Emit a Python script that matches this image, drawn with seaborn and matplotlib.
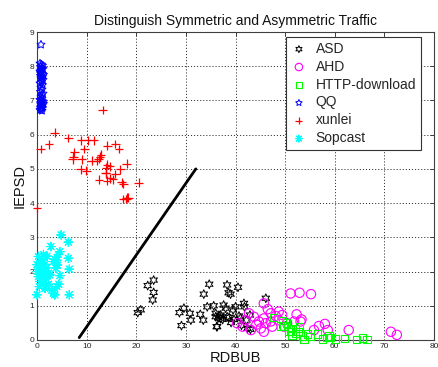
import matplotlib
matplotlib.use("Agg")
import matplotlib.pyplot as plt
import seaborn as sns

# ---------------- data ----------------
asd_x = [23.5, 22.3, 23.5, 23.3, 20.9, 20.3, 29.6, 28.7, 30.8, 31.0, 29.1, 32.9, 33.5, 33.6, 34.7, 34.3,
         35.6, 36.0, 36.3, 36.5, 37.0, 36.8, 37.4, 38.3, 40.5, 38.6, 39.0, 37.6, 38.0, 39.5, 40.0, 41.7,
         41.8, 36.0, 37.0, 38.3, 38.7, 39.7, 40.7, 41.0, 42.2, 42.9, 43.0, 36.2, 39.1, 41.2, 46.1, 42.4]
asd_y = [1.75, 1.59, 1.39, 1.17, 0.88, 0.80, 0.93, 0.80, 0.78, 0.58, 0.42, 0.75, 0.58, 1.34, 1.63, 0.97,
         1.00, 0.68, 0.39, 0.65, 0.62, 0.70, 0.60, 1.61, 1.54, 1.38, 1.34, 1.02, 0.93, 0.88, 0.97, 1.07,
         0.97, 0.78, 0.73, 0.68, 0.66, 0.60, 0.70, 0.64, 0.58, 0.73, 0.31, 0.39, 0.51, 0.43, 1.22, 0.34]

ahd_x = [51.1, 52.9, 55.2, 45.7, 43.7, 42.7, 44.7, 46.1, 47.1, 48.1, 48.7, 47.4, 45.1, 41.4, 40.3, 47.1,
         48.7, 45.7, 43.1, 42.0, 45.7, 49.8, 51.8, 52.3, 53.1, 49.4, 50.4, 56.8, 58.0, 58.6, 62.8, 71.3,
         72.5, 55.8, 53.3, 46.5, 44.2]
ahd_y = [1.36, 1.38, 1.34, 0.63, 0.68, 0.78, 0.54, 0.49, 0.54, 0.70, 0.58, 0.39, 0.34, 0.39, 0.49, 0.78,
         0.83, 1.07, 0.29, 0.58, 0.24, 0.39, 0.54, 0.75, 0.54, 0.73, 0.49, 0.41, 0.47, 0.29, 0.29, 0.24,
         0.15, 0.29, 0.60, 0.90, 0.45]

http_x = [47.7, 49.4, 49.0, 50.8, 51.4, 52.1, 52.6, 53.8, 54.5, 56.5, 57.5, 58.4, 59.1, 60.2, 62.0, 64.4,
          65.6, 66.5, 53.5, 51.1, 49.8, 51.1, 52.1, 50.3, 52.9, 55.0, 58.8]
http_y = [0.66, 0.56, 0.41, 0.24, 0.15, 0.34, 0.24, 0.02, 0.18, 0.18, 0.03, 0.08, 0.08, 0.03, 0.04, 0.02,
          0.06, 0.02, 0.12, 0.34, 0.41, 0.24, 0.19, 0.50, 0.40, 0.10, 0.12]

qq_x = [0.8, 0.6, 0.9, 1.1, 0.7, 1.0, 1.2, 0.8, 0.6, 0.9, 1.1, 1.3, 0.7, 1.0, 0.8, 1.2, 0.9, 0.6, 1.1,
        0.8, 1.0, 0.7, 1.2, 0.9, 0.8, 1.0, 0.6, 1.1, 0.9, 0.7, 1.3, 0.8, 1.0, 0.9, 0.7, 1.1, 0.8, 0.6,
        1.0, 1.2, 0.9, 0.7, 1.1, 0.8, 1.0]
qq_y = [8.63, 8.08, 8.05, 8.02, 7.98, 7.95, 7.92, 7.88, 7.85, 7.82, 7.78, 7.75, 7.72, 7.68, 7.65, 7.60,
        7.55, 7.50, 7.45, 7.38, 7.32, 7.25, 7.20, 7.15, 7.10, 7.05, 7.02, 6.98, 6.95, 6.92, 6.90, 6.88,
        6.85, 6.82, 6.80, 6.78, 6.75, 6.72, 6.70, 6.95, 7.90, 7.80, 7.70, 7.00, 6.85]

xunlei_x = [0.75, 2.4, 3.6, 6.3, 8.9, 10.2, 11.4, 9.5, 7.5, 7.3, 7.2, 9.0, 11.0, 12.1, 12.7, 12.9, 12.4,
            14.2, 15.8, 16.5, 14.1, 14.7, 13.9, 18.1, 16.8, 8.8, 9.9, 13.9, 13.8, 15.8, 14.7, 15.3, 14.1,
            12.5, 17.1, 17.4, 17.4, 18.1, 18.4, 18.0, 0.0, 13.2, 20.5]
xunlei_y = [5.58, 5.72, 6.06, 5.90, 5.83, 5.83, 5.83, 5.58, 5.48, 5.36, 5.28, 5.28, 5.24, 5.24, 5.36, 5.41,
            5.29, 5.68, 5.73, 5.58, 5.12, 5.07, 5.04, 5.15, 4.99, 4.99, 4.95, 4.87, 4.88, 4.85, 4.73, 4.70,
            4.66, 4.68, 4.61, 4.56, 4.12, 4.16, 4.16, 4.12, 3.85, 6.72, 4.60]

sop_x = [4.85, 6.3, 2.8, 6.3, 4.6, 4.3, 3.6, 3.3, 4.0, 3.8, 4.1, 6.5, 4.6, 4.0, 4.4, 3.3, 3.6, 6.5, 0.0,
         0.27, 0.94, 1.28, 0.6, 1.6, 0.47, 1.1, 1.95, 0.07, 0.74, 1.4, 2.3, 0.27, 0.94, 1.8, 0.6, 1.28,
         2.3, 0.47, 1.6, 2.6, 3.0, 1.3, 0.0, 2.0]
sop_y = [3.07, 2.86, 2.73, 2.39, 2.58, 2.50, 2.36, 2.29, 2.33, 2.10, 2.19, 2.07, 1.88, 1.56, 1.63, 1.36,
         1.32, 1.32, 1.32, 2.44, 2.39, 2.34, 2.24, 2.21, 2.14, 2.10, 2.11, 2.00, 2.00, 1.95, 1.95, 1.85,
         1.80, 1.80, 1.71, 1.66, 1.63, 1.56, 1.51, 1.90, 1.46, 2.50, 2.20, 2.45]

line_x = [8.5, 32.0]
line_y = [0.07, 5.0]

names = ["ASD", "AHD", "HTTP-download", "QQ", "xunlei", "Sopcast"]
xs = [asd_x, ahd_x, http_x, qq_x, xunlei_x, sop_x]
ys = [asd_y, ahd_y, http_y, qq_y, xunlei_y, sop_y]
colors = ["#000000", "#FF00FF", "#00FF00", "#0000FF", "#FF0000", "#00FFFF"]
markers = [(6, 1, 0), "o", "s", (5, 1, 0), "+", (8, 2, 0)]
sizes = [40, 45, 28, 36, 40, 38]
widths = [0.7, 0.8, 0.8, 0.7, 0.9, 0.8]

x_ticks = list(range(0, 81, 10))
y_ticks = list(range(0, 10))

# ---------------- style ----------------
sns.set_style("white")
plt.rcParams['font.family'] = ['Liberation Sans', 'DejaVu Sans']

fig = plt.figure(figsize=(4.38, 3.67), dpi=100)
ax = fig.add_axes([0.0845, 0.0736, 0.9065, 0.8392])

handles = []
for name, x, y, c, m, s, w in zip(names, xs, ys, colors, markers, sizes, widths):
    sns.scatterplot(x=x, y=y, ax=ax, marker=m, s=s, color=c, label=name, legend=False, zorder=3)
    coll = ax.collections[-1]
    coll.set_facecolor("none")
    coll.set_edgecolor(c)
    coll.set_linewidth(w)
    coll.set_clip_on(False)
    handles.append(coll)

sns.lineplot(x=line_x, y=line_y, ax=ax, color="black", linewidth=2.0, legend=False, sort=False, zorder=2)

ax.set_xlim(0, 80)
ax.set_ylim(0, 9)
ax.set_xticks(x_ticks)
ax.set_yticks(y_ticks)
ax.tick_params(axis="both", which="both", direction="in", length=3, width=0.6,
               labelsize=6, colors="#262626", top=True, right=True, pad=2)
ax.grid(True, color="#222222", linestyle=(0, (1.2, 2.2)), linewidth=0.65)
ax.set_axisbelow(True)
for sp in ax.spines.values():
    sp.set_color("#404040")
    sp.set_linewidth(0.8)

ax.set_title("Distinguish Symmetric and Asymmetric Traffic", fontsize=10, pad=5, color="#111111")
ax.set_xlabel("RDBUB", fontsize=10.5, labelpad=1, color="#111111")
ax.set_ylabel("IEPSD", fontsize=10.5, labelpad=2, color="#111111")

leg = ax.legend(handles=handles, labels=names, loc="upper right", bbox_to_anchor=(0.967, 0.984),
                borderaxespad=0, fontsize=10, frameon=True, fancybox=False, shadow=False,
                handlelength=1.2, handletextpad=0.6, labelspacing=0.28, borderpad=0.35,
                framealpha=1, edgecolor="#333333", markerscale=0.8)
leg.get_frame().set_linewidth(0.8)

fig.savefig("out.png", dpi=100, facecolor="white")
